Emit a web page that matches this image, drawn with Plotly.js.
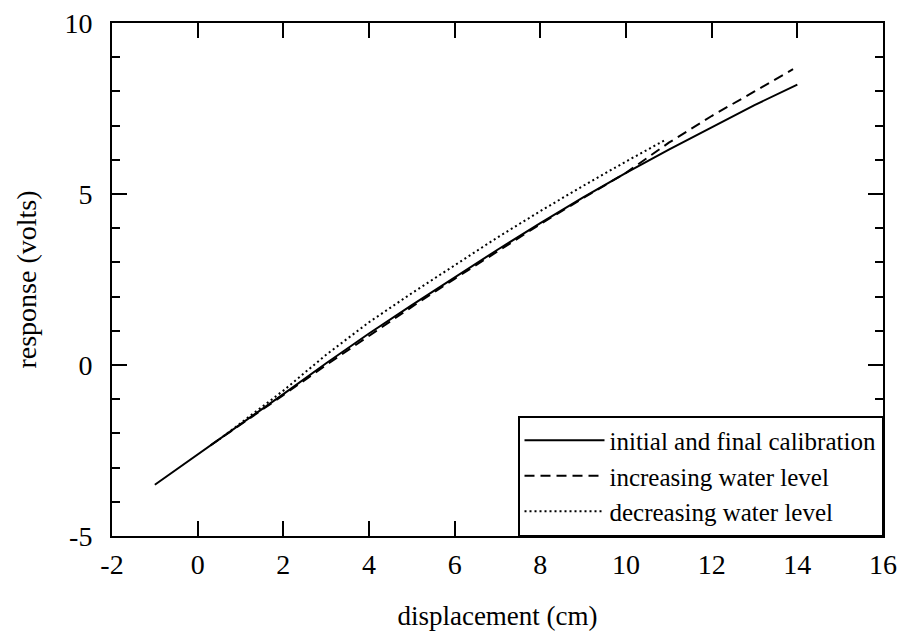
<!DOCTYPE html>
<html>
<head>
<meta charset="utf-8">
<script src="https://cdn.plot.ly/plotly-3.0.1.min.js"></script>
<style>html,body{margin:0;padding:0;background:#fff;}#chart{width:900px;height:636px;}</style>
</head>
<body>
<div id="chart"></div>
<script>
// Data
const calibX = [-1, 0, 1, 2, 3, 4, 5, 6, 7, 8, 9, 10, 11, 12, 13, 14];
const calibY = [-3.5, -2.62, -1.73, -0.85, 0.05, 0.92, 1.75, 2.57, 3.37, 4.15, 4.9, 5.62, 6.3, 6.95, 7.6, 8.2];

const incX = [0.3, 1, 2, 3, 4, 5, 6, 7, 8, 9, 10, 11, 12, 13, 13.9];
const incY = [-2.35, -1.75, -0.88, 0.0, 0.86, 1.7, 2.52, 3.33, 4.12, 4.88, 5.62, 6.5, 7.28, 8.0, 8.65];

const decX = [0.5, 1, 2, 3, 4, 5, 6, 7, 8, 9, 10, 10.9];
const decY = [-2.18, -1.7, -0.75, 0.3, 1.25, 2.1, 2.92, 3.73, 4.5, 5.24, 5.95, 6.57];

const seriesNames = ['initial and final calibration', 'increasing water level', 'decreasing water level'];

const xTicks = [-2, 0, 2, 4, 6, 8, 10, 12, 14, 16];
const yTicks = [-5, 0, 5, 10];

const font = 'Liberation Serif, Times New Roman, serif';

const traces = [
  {x: calibX, y: calibY, name: seriesNames[0], mode: 'lines', line: {color: '#000', width: 2, dash: 'solid'}},
  {x: incX, y: incY, name: seriesNames[1], mode: 'lines', line: {color: '#000', width: 2, dash: '10px,6px'}},
  {x: decX, y: decY, name: seriesNames[2], mode: 'lines', line: {color: '#000', width: 2, dash: '2px,3px'}}
];

const axisCommon = {
  showgrid: false, zeroline: false,
  showline: true, linecolor: '#000', linewidth: 2,
  mirror: 'allticks', ticks: 'inside', ticklen: 15, tickwidth: 2, tickcolor: '#000',
  tickfont: {family: font, size: 28, color: '#000'}
};

const layout = {
  width: 900, height: 636,
  margin: {l: 112, r: 17, t: 23, b: 100},
  paper_bgcolor: '#fff', plot_bgcolor: '#fff',
  font: {family: font, color: '#000'},
  showlegend: true,
  legend: {
    x: 1, xanchor: 'right', y: 0, yanchor: 'bottom',
    bordercolor: '#000', borderwidth: 1.5, bgcolor: '#fff',
    font: {family: font, size: 25, color: '#000'},
    tracegroupgap: 0, itemwidth: 80
  },
  xaxis: Object.assign({}, axisCommon, {
    range: [-2, 16], tickmode: 'array', tickvals: xTicks, ticktext: xTicks.map(String),
    ticklabelstandoff: 2,
    title: {text: 'displacement (cm)', font: {family: font, size: 27, color: '#000'}, standoff: 28}
  }),
  yaxis: Object.assign({}, axisCommon, {
    range: [-5, 10], tickmode: 'array', tickvals: yTicks, ticktext: yTicks.map(String),
    ticklabelstandoff: 12,
    minor: {dtick: 1, tick0: 0, ticks: 'inside', ticklen: 8, tickwidth: 2, tickcolor: '#000'},
    title: {text: 'response (volts)', font: {family: font, size: 28, color: '#000'}, standoff: 20}
  })
};

Plotly.newPlot('chart', traces, layout, {displayModeBar: false, staticPlot: true});
</script>
</body>
</html>
